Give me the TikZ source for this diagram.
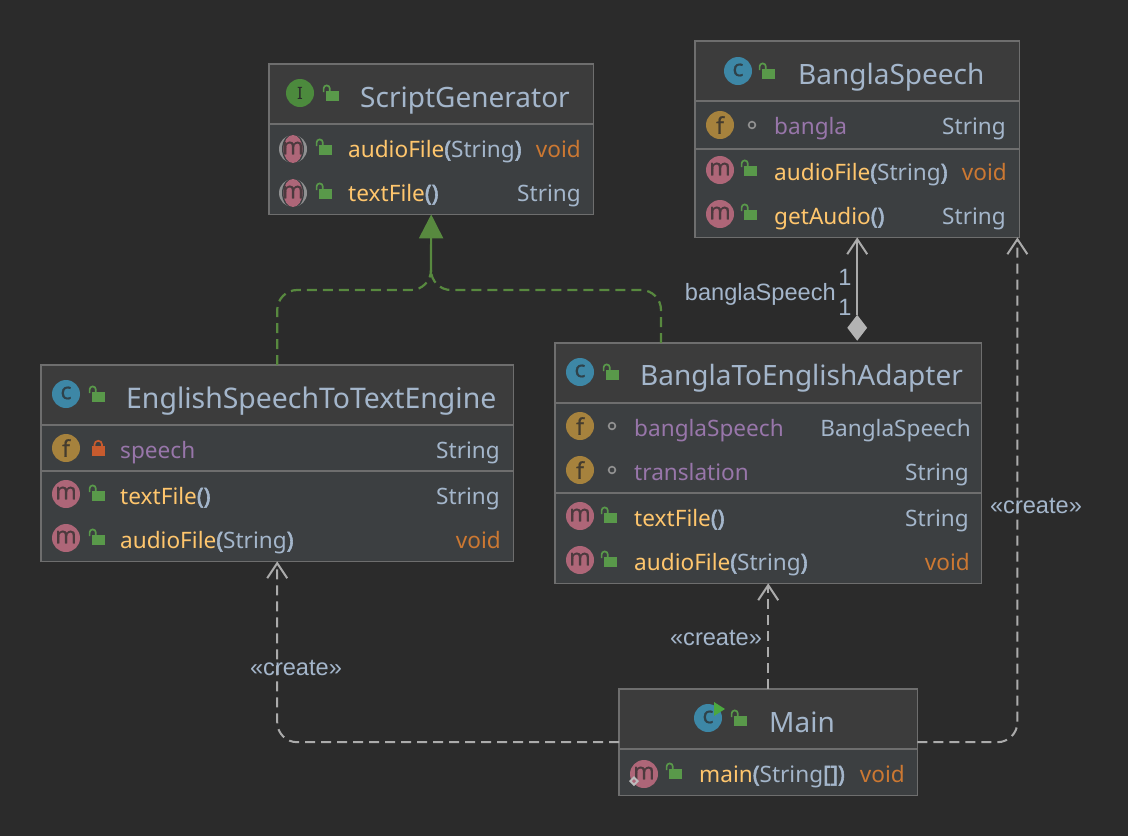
\documentclass[tikz,border=0pt]{standalone}
\usepackage{fontspec}
\setmainfont{Noto Sans}
\newfontfamily\lblfont{Liberation Sans}
\newfontfamily\parenfont[FakeBold=2.5]{Noto Sans}
\newfontfamily\iconfont[FakeBold=0.6]{Noto Sans}
\usetikzlibrary{arrows.meta,shapes.geometric,calc}
\definecolor{bgc}{HTML}{2B2B2B}
\definecolor{headc}{HTML}{3C3C3C}
\definecolor{bodyc}{HTML}{3C3F41}
\definecolor{edgec}{HTML}{6E6E6E}
\definecolor{titlec}{HTML}{A4B6CB}
\definecolor{methc}{HTML}{FFC66D}
\definecolor{voidc}{HTML}{CC7832}
\definecolor{fieldc}{HTML}{9876AA}
\definecolor{lockc}{HTML}{59994A}
\definecolor{arrowg}{HTML}{58893F}
\definecolor{linec}{HTML}{ABABAB}
\definecolor{mc}{HTML}{AE6678}
\definecolor{fc}{HTML}{A6823D}
\definecolor{cc}{HTML}{3D87A6}
\definecolor{ic}{HTML}{4C8A3D}
\definecolor{redl}{HTML}{C75B2E}
\tikzset{
 boxbody/.style={fill=bodyc,inner sep=0pt,anchor=north west},
 titletext/.style={text=titlec,anchor=base west,inner sep=0pt,font=\fontsize{28}{28}\selectfont},
 rowtext/.style={anchor=base west,inner sep=0pt,font=\fontsize{22.6}{26}\selectfont},
 typetext/.style={anchor=base east,inner sep=0pt,font=\fontsize{22.6}{26}\selectfont},
 lbltext/.style={text=titlec,inner sep=0pt,anchor=base,font=\lblfont\fontsize{23.6}{26}\selectfont},
 icontext/.style={inner sep=0pt,font=\iconfont\fontsize{23}{23}\selectfont},
 dashconn/.style={draw=linec,line width=2pt,dash pattern=on 10pt off 6pt,rounded corners=20pt},
 opentip/.style={-{Straight Barb[length=15pt,width=20pt,line width=2pt]}},
 realconn/.style={draw=arrowg,line width=2.2pt,dash pattern=on 10pt off 6pt,rounded corners=20pt},
}
\newcommand{\umlbox}[7]{%
 \node[boxbody,minimum width=#4pt,minimum height=#5pt] (#1) at (#2,#3) {};
 \fill[headc] (#1.north west) rectangle (#1.east |- 0,#6);
 \foreach \ys in {#6,#7} {\draw[edgec,line width=2pt] (#1.west |- 0,\ys) -- (#1.east |- 0,\ys);}
 \draw[edgec,line width=1.6pt] (#1.south west) rectangle (#1.north east);
}
\newcommand{\openlock}[2]{%
 \fill[lockc] (#1,#2) rectangle ++(12.5,-10);
 \draw[lockc,line width=1.7pt] (#1-2.4,#2-9) -- ++(0,-3.5) arc[start angle=180,end angle=360,radius=3.1] -- ++(0,2.5);
}
\newcommand{\closedlock}[2]{%
 \fill[redl] (#1,#2) rectangle ++(12.5,-10);
 \draw[redl,line width=1.7pt] (#1+2.5,#2-9) -- ++(0,-2.5) arc[start angle=180,end angle=360,radius=3.75] -- ++(0,2.5);
}
\newcommand{\pkgdot}[2]{\draw[line width=1.6pt,color=linec!85!black] (#1,#2) circle[radius=3.4];}
\newcommand{\iconm}[3]{%
 \fill[mc] (#2,#3) circle[radius=14];
 \node[icontext,text=bgc!75!mc] (#1) at (#2,#3-1) {m};
}
\newcommand{\iconabs}[3]{%
 \fill[linec!75!bodyc] (#2,#3) circle[radius=14];
 \fill[bodyc] (#2,#3) ellipse[x radius=11,y radius=15];
 \fill[mc] (#2,#3) ellipse[x radius=9.5,y radius=14];
 \node[icontext,text=bgc!75!mc] (#1) at (#2,#3-1) {m};
}
\newcommand{\iconf}[3]{%
 \fill[fc] (#2,#3) circle[radius=14];
 \node[icontext,text=bgc!80!fc] (#1) at (#2,#3) {f};
}
\newcommand{\iconc}[3]{%
 \fill[cc] (#2,#3) circle[radius=14];
 \node[icontext,text=bgc!75!cc] (#1) at (#2,#3-1) {c};
}
\newcommand{\methname}[1]{\textcolor{methc}{#1}}
\newcommand{\pn}[1]{\textcolor{titlec}{\parenfont #1}}
\begin{document}
\begin{tikzpicture}[x=1pt,y=-1pt]
\useasboundingbox (0,0) rectangle (1128,836);
\fill[bgc] (0,0) rectangle (1128,836);

% ---- boxes
\umlbox{script}{269}{64}{324}{150}{124}{124}
\umlbox{bangla}{695}{41}{324}{196}{101}{149}
\umlbox{eng}{41}{365}{472}{196}{425}{471}
\umlbox{adapter}{555}{343}{426}{240}{403}{493}
\umlbox{mainb}{619}{689}{298}{106}{749}{749}

% ---- connectors
\coordinate (realj) at (431,290);
\coordinate (realk) at (431,272);
\coordinate (adaptout) at ($(adapter.north west)+(106,0)$);
\coordinate (creater) at ($(bangla.south east)+(-2,0)$);
\draw[realconn] (eng.north) |- (realj) -- (realk);
\draw[realconn] (adaptout) |- (realj) -- (realk);
\draw[arrowg,line width=2.2pt,-{Triangle[length=24pt,width=24pt,fill=arrowg]}] (realk) -- (script.south);
\draw[dashconn,opentip] (mainb.north) -- (adapter.south);
\draw[dashconn,opentip] (mainb.west) -| (eng.south);
\draw[dashconn,opentip] (mainb.east) -| (creater);
\node[diamond,fill=linec!90!white,inner sep=0pt,minimum width=20pt,minimum height=26pt,anchor=south] (comp) at ($(bangla.south |- adapter.north)+(0,-2)$) {};
\draw[linec,line width=2.3pt,opentip] (comp.north) -- (bangla.south);

% ---- ScriptGenerator
\fill[ic] (300,93) circle[radius=14];
\node[inner sep=0pt,text=bgc,font=\fontsize{17}{17}\selectfont\bfseries\rmfamily] (iconi) at (300,93) {I};
\openlock{326}{101}
\node[titletext] (t1) at (360,107) {ScriptGenerator};
\iconabs{a1}{293}{149}\openlock{319}{155}
\iconabs{a2}{293}{193}\openlock{319}{199}
\node[rowtext,text=titlec] (r1) at (348,157) {\methname{audioFile}\pn{(}String\pn{)}};
\node[typetext,text=voidc] (r2) at (581,157) {void};
\node[rowtext,text=titlec] (r3) at (348,201) {\methname{textFile}\pn{()}};
\node[typetext,text=titlec] (r4) at (581,201) {String};

% ---- BanglaSpeech
\iconc{b0}{738}{71}\openlock{762}{79}
\node[titletext] (t2) at (798,84) {BanglaSpeech};
\iconf{b1}{720}{125}\pkgdot{752}{125}
\node[rowtext,text=fieldc] (r5) at (774,134) {bangla};
\node[typetext,text=titlec] (r6) at (1006,134) {String};
\iconm{b2}{720}{170}\openlock{744}{176}
\node[rowtext,text=titlec] (r7) at (774,180) {\methname{audioFile}\pn{(}String\pn{)}};
\node[typetext,text=voidc] (r8) at (1007,180) {void};
\iconm{b3}{720}{214}\openlock{744}{220}
\node[rowtext,text=titlec] (r9) at (774,224) {\methname{getAudio}\pn{()}};
\node[typetext,text=titlec] (r10) at (1006,224) {String};

% ---- English
\iconc{e0}{66}{394}\openlock{92}{402}
\node[titletext,font=\fontsize{28.4}{28}\selectfont] (t3) at (126,408) {EnglishSpeechToTextEngine};
\iconf{e1}{66}{448}\closedlock{92}{456}
\node[rowtext,text=fieldc] (r11) at (120,458) {speech};
\node[typetext,text=titlec] (r12) at (500,458) {String};
\iconm{e2}{66}{494}\openlock{92}{501}
\node[rowtext,text=titlec] (r13) at (120,504) {\methname{textFile}\pn{()}};
\node[typetext,text=titlec] (r14) at (500,504) {String};
\iconm{e3}{66}{538}\openlock{92}{545}
\node[rowtext,text=titlec] (r15) at (120,548) {\methname{audioFile}\pn{(}String\pn{)}};
\node[typetext,text=voidc] (r16) at (501,548) {void};

% ---- Adapter
\iconc{d0}{580}{372}\openlock{606}{380}
\node[titletext] (t4) at (640,385) {BanglaToEnglishAdapter};
\iconf{d1}{580}{426}\pkgdot{612}{426}
\node[rowtext,text=fieldc] (r17) at (634,436) {banglaSpeech};
\node[typetext,text=titlec] (r18) at (971,436) {BanglaSpeech};
\iconf{d2}{580}{470}\pkgdot{612}{470}
\node[rowtext,text=fieldc] (r19) at (634,480) {translation};
\node[typetext,text=titlec] (r20) at (969,480) {String};
\iconm{d3}{580}{516}\openlock{604}{523}
\node[rowtext,text=titlec] (r21) at (634,526) {\methname{textFile}\pn{()}};
\node[typetext,text=titlec] (r22) at (969,526) {String};
\iconm{d4}{580}{560}\openlock{604}{567}
\node[rowtext,text=titlec] (r23) at (634,570) {\methname{audioFile}\pn{(}String\pn{)}};
\node[typetext,text=voidc] (r24) at (970,570) {void};

% ---- Main
\iconc{m0}{708}{718}
\fill[lockc!85!green] (714,702) -- (725,709) -- (714,716) -- cycle;
\openlock{734}{726}
\node[titletext] (t5) at (769,732) {Main};
\iconm{m1}{644}{774}\openlock{669}{779}
\fill[linec!80!white] (634,776) -- (639,781) -- (634,786) -- (629,781) -- cycle;
\fill[mc] (634,779) -- (636,781) -- (634,783) -- (632,781) -- cycle;
\node[rowtext,text=titlec] (r25) at (699,782) {\methname{main}\pn{(}String\pn{[])}};
\node[typetext,text=voidc] (r26) at (905,782) {void};

% ---- labels
\node[lbltext] (l1) at (296,675) {«create»};
\node[lbltext] (l2) at (716,645) {«create»};
\node[lbltext] (l3) at (1036,513) {«create»};
\node[lbltext,anchor=base east] (l4) at (836,300) {banglaSpeech};
\node[lbltext] (l5) at (845,285) {1};
\node[lbltext] (l6) at (845,315) {1};
\end{tikzpicture}
\end{document}
